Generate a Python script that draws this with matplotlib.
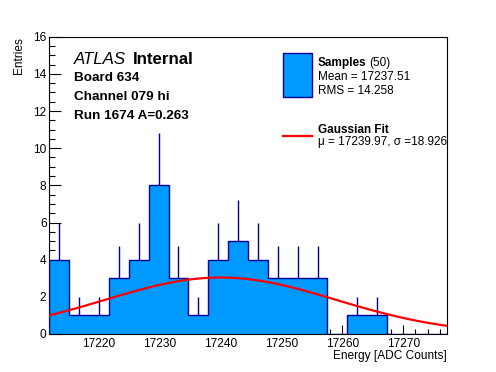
import numpy as np
import matplotlib
matplotlib.use("Agg")
import matplotlib.pyplot as plt
from matplotlib.patches import Rectangle

plt.rcParams['font.family'] = ['Liberation Sans', 'DejaVu Sans']

# ---- data ----
bin_lo = 17211.83
bin_hi = 17277.13
counts = [4, 1, 1, 3, 4, 8, 3, 1, 4, 5, 4, 3, 3, 3, 0, 1, 1, 0, 0, 0]
fit_const = 3.04
fit_mu = 17239.97
fit_sigma = 18.926
x_ticks = [17220, 17230, 17240, 17250, 17260, 17270]
y_ticks = [0, 2, 4, 6, 8, 10, 12, 14, 16]

FILL = '#0099ff'
EDGE = '#000099'
W, H = 496, 372

fig = plt.figure(figsize=(W / 100, H / 100), dpi=100)
ax = fig.add_axes([49.3 / W, 38 / H, (446.7 - 49.3) / W, (334 - 36.7) / H])

counts_a = np.array(counts, dtype=float)
edges = np.linspace(bin_lo, bin_hi, len(counts) + 1)
centers = 0.5 * (edges[:-1] + edges[1:])
err = np.sqrt(counts_a)
mask = counts_a > 0
ax.vlines(centers[mask], (counts_a - err)[mask], (counts_a + err)[mask],
          color=EDGE, lw=1.0, zorder=1)
ax.stairs(counts_a, edges, fill=True, color=FILL, zorder=2)
ax.stairs(counts_a, edges, fill=False, color=EDGE, lw=1.0, baseline=0, zorder=3)

xs = np.linspace(bin_lo, bin_hi, 100)
ax.plot(xs, fit_const * np.exp(-0.5 * ((xs - fit_mu) / fit_sigma) ** 2),
        color='#ff0000', lw=1.6, zorder=4)

ax.set_xlim(bin_lo, bin_hi)
ax.set_ylim(0, 16)
ax.set_xticks(x_ticks)
ax.set_xticks(np.arange(17212, 17278, 2), minor=True)
ax.set_yticks(y_ticks)
ax.set_yticks(np.arange(0, 16.01, 0.5), minor=True)
ax.tick_params(axis='both', which='both', direction='in', top=False, right=False,
               width=0.8, labelsize=8.6)
ax.tick_params(axis='y', which='major', length=8.4, pad=2)
ax.tick_params(axis='y', which='minor', length=4.1)
ax.tick_params(axis='x', which='major', length=6.7, pad=3)
ax.tick_params(axis='x', which='minor', length=3.6)
for s in ax.spines.values():
    s.set_linewidth(0.8)

# overlay in pixel coordinates
ov = fig.add_axes([0, 0, 1, 1], zorder=10)
ov.set_xlim(0, W)
ov.set_ylim(H, 0)
ov.axis('off')
ov.patch.set_alpha(0)

ov.text(19, 36.7, 'Entries', rotation=90, ha='center', va='top', fontsize=8.6)
ov.text(446.7, 356, 'Energy [ADC Counts]', ha='right', va='center', fontsize=8.6)

ov.text(74, 64.3, 'ATLAS', style='italic', fontsize=12.2, va='baseline')
ov.text(133, 64.3, 'Internal', weight='bold', fontsize=12.2, va='baseline')
ov.text(74, 80.7, 'Board 634', weight='bold', fontsize=9.7, va='baseline')
ov.text(74, 100, 'Channel 079 hi', weight='bold', fontsize=9.7, va='baseline')
ov.text(74, 119, 'Run 1674 A=0.263', weight='bold', fontsize=9.7, va='baseline')

ov.add_patch(Rectangle((283.3, 53.3), 28.4, 43.4, facecolor=FILL,
                       edgecolor=EDGE, lw=1.0))
ov.text(317.7, 66, 'Samples', weight='bold', fontsize=8.5, va='baseline')
ov.text(369, 66, '(50)', fontsize=8.5, va='baseline')
ov.text(317.7, 80, 'Mean = 17237.51', fontsize=8.5, va='baseline')
ov.text(317.7, 94, 'RMS = 14.258', fontsize=8.5, va='baseline')

ov.plot([282.7, 311.7], [135.7, 135.7], color='#ff0000', lw=1.6)
ov.text(317.7, 133.3, 'Gaussian Fit', weight='bold', fontsize=8.5, va='baseline')
ov.text(317.7, 145.3, 'μ = 17239.97, σ =18.926', fontsize=8.5, va='baseline')

fig.savefig('out.png', dpi=100)
